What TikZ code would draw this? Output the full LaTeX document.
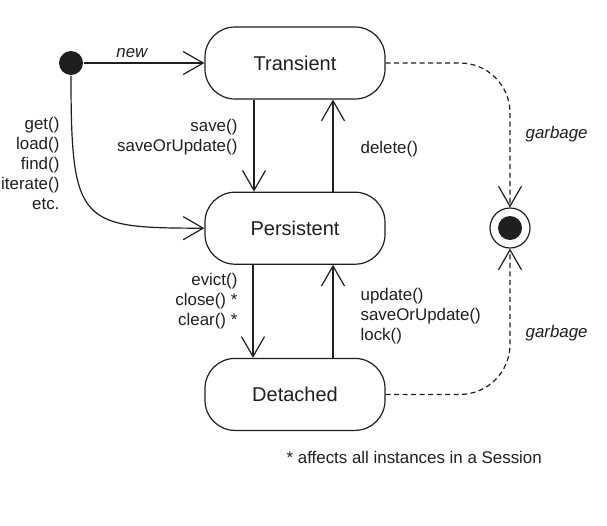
\documentclass[tikz,border=0pt]{standalone}
\usepackage{fontspec}
\setmainfont{Liberation Sans}
\usetikzlibrary{positioning,arrows.meta}

\begin{document}
\begin{tikzpicture}[x=1pt,y=-1pt,line width=1.2pt,color=black!88,
    state/.style={draw, rounded corners=30pt, minimum width=180pt,
        minimum height=72pt, font=\fontsize{20}{24}\selectfont},
    trans/.style={-{Straight Barb[length=20pt,width=23pt]}},
    garbage/.style={trans, dash pattern=on 5pt off 3.5pt, rounded corners=50pt},
    lbl/.style={inner sep=0pt, font=\fontsize{16.9}{20}\selectfont}]
    \useasboundingbox (0,0) rectangle (607,525);

    \node[state] (transient) at (295,63) {Transient};
    \node[state, below=92pt of transient] (persistent) {Persistent};
    \node[state, below=93pt of persistent] (detached) {Detached};

    \node[circle, fill, minimum size=24pt, inner sep=0pt] (init) at (71,63) {};
    \node[circle, draw, minimum size=40pt, inner sep=0pt] (final) at (510,228) {};
    \node[circle, fill, minimum size=24pt, inner sep=0pt] (finaldot) at (final.center) {};

    \draw[trans] (init) -- (transient.west)
        node[lbl, pos=0.4, above=5pt] {\itshape new};
    \draw[trans] (init.south) .. controls (71,225) and (80,228) .. (persistent.west);
    \node[lbl, align=right, anchor=east] (getlbl) at (60,163)
        {get()\\load()\\find()\\iterate()\\etc.};

    \draw[trans] ([xshift=-41pt]transient.south) -- ([xshift=-41pt]persistent.north)
        node[lbl, pos=0.41, left=16pt, align=right] {save()\\saveOrUpdate()};
    \draw[trans] ([xshift=38pt]persistent.north) -- ([xshift=38pt]transient.south)
        node[lbl, pos=0.46, right=27pt, align=left] {delete()};

    \draw[trans] ([xshift=-42pt]persistent.south) -- ([xshift=-42pt]detached.north)
        node[lbl, pos=0.39, left=15pt, align=right] {evict()\\close() *\\clear() *};
    \draw[trans] ([xshift=38pt]detached.north) -- ([xshift=38pt]persistent.south)
        node[lbl, pos=0.45, right=27pt, align=left] {update()\\saveOrUpdate()\\lock()};

    \draw[garbage] (transient.east) -| (final.north);
    \draw[garbage] (detached.east) -| (final.south);
    \node[lbl, anchor=west] (garbage1) at (525,134) {\itshape garbage};
    \node[lbl, anchor=west] (garbage2) at (525,333) {\itshape garbage};

    \node[lbl, anchor=west] (note) at (286,457) {* affects all instances in a Session};
\end{tikzpicture}
\end{document}
